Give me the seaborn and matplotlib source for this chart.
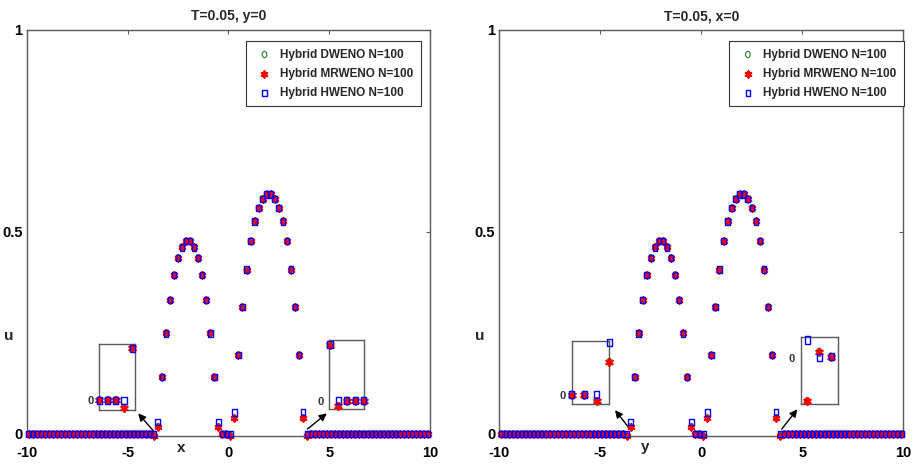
import numpy as np
import matplotlib
matplotlib.use("Agg")
import matplotlib.pyplot as plt
import seaborn as sns

# ---------------- data ----------------
# cell centres, N = 100 cells on [-10, 10]
x_cells = np.round(np.linspace(-9.9, 9.9, 100), 1)

bump1_hweno = [0.030, 0.141, 0.249, 0.331, 0.393, 0.436, 0.462, 0.477,
               0.477, 0.462, 0.436, 0.393, 0.331, 0.249, 0.141, 0.030]
bump1_mrweno = [0.018, 0.141, 0.249, 0.331, 0.393, 0.436, 0.462, 0.477,
                0.477, 0.462, 0.436, 0.393, 0.331, 0.249, 0.141, 0.018]
gap_hweno = [0.0, 0.0, 0.0]
gap_mrweno = [0.0, 0.0, -0.004]
bump2_hweno = [0.053, 0.195, 0.314, 0.407, 0.477, 0.526, 0.559, 0.582, 0.593,
               0.593, 0.582, 0.559, 0.526, 0.477, 0.407, 0.314, 0.195, 0.055]
bump2_mrweno = [0.039, 0.195, 0.314, 0.407, 0.477, 0.526, 0.559, 0.582, 0.593,
                0.593, 0.582, 0.559, 0.526, 0.477, 0.407, 0.314, 0.195, 0.039]

hweno_y0 = [0.0] * 32 + bump1_hweno + gap_hweno + bump2_hweno + [0.0] * 31
mrweno_y0 = [0.0] * 31 + [-0.004] + bump1_mrweno + gap_mrweno + bump2_mrweno + [-0.005] + [0.0] * 30
dweno_y0 = [0.0] * 31 + [-0.003] + bump1_mrweno + gap_mrweno + bump2_mrweno + [-0.004] + [0.0] * 30

hweno_x0 = list(hweno_y0)
mrweno_x0 = list(mrweno_y0)
dweno_x0 = list(dweno_y0)

labels = ["Hybrid DWENO N=100", "Hybrid MRWENO N=100", "Hybrid HWENO N=100"]
titles = ["T=0.05, y=0", "T=0.05, x=0"]
xlabels = ["x", "y"]
xticks = [-10, -5, 0, 5, 10]
yticks = [0, 0.5, 1]
ytick_labels = ["0", "0.5", "1"]

# zoom-in insets (values in units of 1e-3)
insetL1_x = [-4.3, -4.1, -3.9, -3.7, -3.5]
insetL1_hweno = [0.0, 0.0, 0.0, 0.0, 7.9]
insetL1_mrweno = [0.0, 0.0, 0.0, -1.15, 7.9]
insetL2_x = [3.7, 3.9, 4.1, 4.3, 4.5]
insetL2_hweno = [8.1, 0.0, 0.0, 0.0, 0.0]
insetL2_mrweno = [8.1, -0.77, 0.0, 0.0, 0.0]
insetR1_x = [-4.1, -3.9, -3.7, -3.5]
insetR1_hweno = [0.0, 0.0, 0.0, 8.34]
insetR1_mrweno = [0.0, 0.0, -0.98, 5.2]
insetR2_x = [3.9, 4.1, 4.3]
insetR2_hweno = [2.61, 0.05, 0.15]
insetR2_mrweno = [-6.41, 0.88, 0.15]

# arrows (data coordinates): tail -> head
arrows_left = [((-3.69, 0.006), (-4.47, 0.051)), ((3.92, 0.012), (4.88, 0.051))]
arrows_right = [((-3.61, 0.017), (-4.27, 0.059)), ((3.98, 0.012), (4.75, 0.061))]

# ---------------- style ----------------
sns.set_style("white")
plt.rcParams["font.family"] = ["Liberation Sans", "DejaVu Sans"]
plt.rcParams["font.weight"] = "bold"
plt.rcParams["axes.titleweight"] = "bold"
plt.rcParams["axes.labelweight"] = "bold"

GREEN = "#3a8a3a"
RED = "#ff0000"
BLUE = "#0000ff"
FRAME = "#5a5a5a"

t = np.linspace(0, 2 * np.pi, 25)
ELL = [(0.72 * np.cos(a), np.sin(a)) for a in t]
SQ = [(-0.72, -1), (0.72, -1), (0.72, 1), (-0.72, 1), (-0.72, -1)]
AST = (6, 2, 0)


def draw_series(ax, xs, dw, mr, hw, s, with_labels):
    lab = labels if with_labels else [None, None, None]
    sns.scatterplot(x=xs, y=dw, marker=ELL, s=s, facecolor="none", edgecolor=GREEN,
                    linewidth=0.9, ax=ax, label=lab[0], clip_on=False, zorder=3)
    sns.scatterplot(x=xs, y=mr, marker=AST, s=s * 0.9, color=RED, linewidth=1.6,
                    ax=ax, label=lab[1], clip_on=False, zorder=4)
    sns.scatterplot(x=xs, y=hw, marker=SQ, s=s, facecolor="none", edgecolor=BLUE,
                    linewidth=1.0, ax=ax, label=lab[2], clip_on=False, zorder=5)


fig = plt.figure(figsize=(9.14, 4.65), dpi=100)
axL = fig.add_axes([0.0292, 0.0624, 0.4413, 0.8731])
axR = fig.add_axes([0.5463, 0.0624, 0.4420, 0.8731])

panels = [
    (axL, dweno_y0, mrweno_y0, hweno_y0, (0.977, 0.973), (0.383, -0.029), arrows_left),
    (axR, dweno_x0, mrweno_x0, hweno_x0, (1.002, 0.973), (0.361, -0.026), arrows_right),
]

for i, (ax, dw, mr, hw, leg_anchor, xlab_pos, arrows) in enumerate(panels):
    draw_series(ax, x_cells, dw, mr, hw, 21, True)
    ax.set_xlim(-10, 10)
    ax.set_ylim(-0.005, 1.0)
    ax.set_xticks(xticks)
    ax.set_xticklabels([str(v) for v in xticks])
    ax.set_yticks(yticks)
    ax.set_yticklabels(ytick_labels)
    ax.tick_params(axis="both", direction="in", length=3, width=0.8, color=FRAME,
                   top=True, right=True, labelsize=10.5, labelcolor="black")
    ax.tick_params(axis="x", pad=7)
    ax.tick_params(axis="y", pad=3)
    for sp in ax.spines.values():
        sp.set_color(FRAME)
        sp.set_linewidth(1.0)
        sp.set_visible(True)
    ax.set_title(titles[i], fontsize=10, fontweight="bold", pad=7)
    ax.set_xlabel(xlabels[i], fontsize=11, fontweight="bold")
    ax.xaxis.label.set_va("center")
    ax.xaxis.set_label_coords(*xlab_pos)
    ax.set_ylabel("u", fontsize=11, fontweight="bold", rotation=0)
    ax.yaxis.label.set_va("center")
    ax.yaxis.label.set_ha("center")
    ax.yaxis.set_label_coords(-0.045 if i == 0 else -0.048, 0.246)
    leg = ax.legend(loc="upper right", bbox_to_anchor=leg_anchor, frameon=True,
                    fancybox=False, framealpha=1, edgecolor="#333333",
                    borderpad=0.65, handlelength=1.9, handletextpad=0.35,
                    labelspacing=0.6, borderaxespad=0,
                    prop={"size": 8.5, "weight": "bold"})
    leg.get_frame().set_linewidth(0.8)
    for tail, head in arrows:
        ax.annotate("", xy=head, xytext=tail, xycoords="data", textcoords="data",
                    arrowprops=dict(arrowstyle="-|>", color="black", lw=1.0,
                                    mutation_scale=11, shrinkA=0, shrinkB=0))

insets = [
    ([0.1086, 0.1183, 0.0391, 0.1413], insetL1_x, insetL1_mrweno, insetL1_mrweno, insetL1_hweno, (-4.3, -3.435), (-1.5, 8.5)),
    ([0.3603, 0.1204, 0.0383, 0.1484], insetL2_x, insetL2_mrweno, insetL2_mrweno, insetL2_hweno, (3.685, 4.51), (-1.2, 8.8)),
    ([0.6255, 0.1305, 0.0411, 0.1361], insetR1_x, insetR1_mrweno, insetR1_mrweno, insetR1_hweno, (-4.1, -3.5), (-1.5, 8.5)),
    ([0.8760, 0.1305, 0.0405, 0.1454], insetR2_x, insetR2_mrweno, insetR2_mrweno, insetR2_hweno, (3.79, 4.41), (-6.9, 3.1)),
]
for rect, xs, dw, mr, hw, xl, yl in insets:
    ia = fig.add_axes(rect)
    ia.set_facecolor("white")
    draw_series(ia, xs, dw, mr, hw, 26, False)
    ia.set_xlim(*xl)
    ia.set_ylim(*yl)
    ia.set_xticks([])
    ia.set_yticks([0])
    ia.set_yticklabels(["0"])
    ia.set_xlabel("")
    ia.set_ylabel("")
    ia.tick_params(axis="y", length=0, pad=4, labelsize=8, labelcolor="#333333")
    for sp in ia.spines.values():
        sp.set_color(FRAME)
        sp.set_linewidth(1.0)
        sp.set_visible(True)
    if ia.get_legend() is not None:
        ia.get_legend().remove()

fig.savefig("out.png", dpi=100)
